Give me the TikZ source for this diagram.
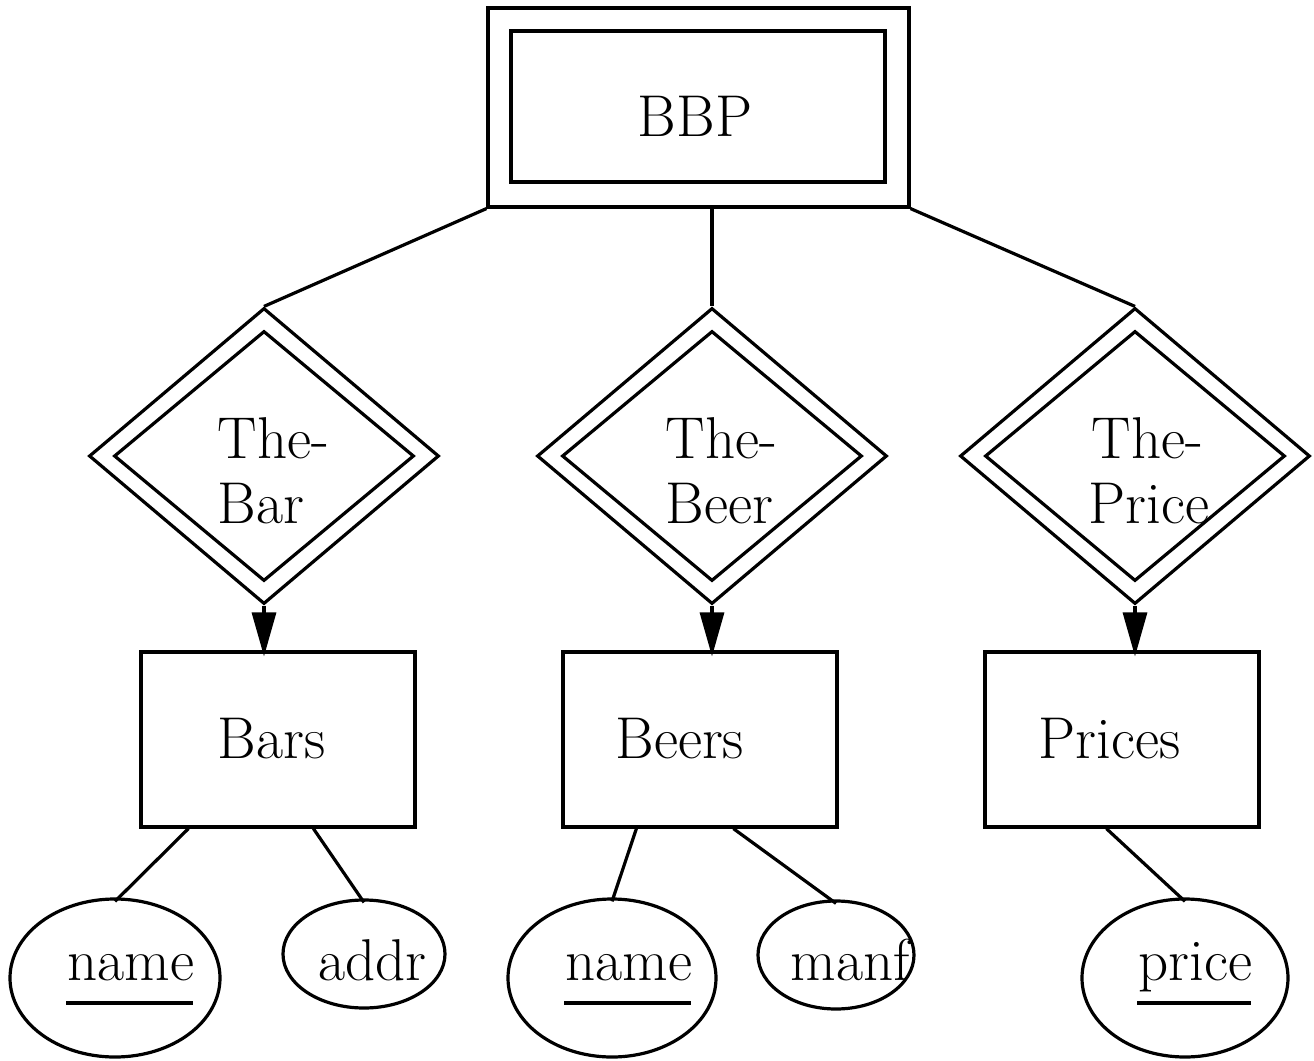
\documentclass[tikz,border=0pt]{standalone}
\usetikzlibrary{shapes.geometric,arrows.meta}
\begin{document}
\begin{tikzpicture}[x=0.5pt,y=-0.5pt,line width=1.6pt,
  every node/.style={font=\fontsize{29.5}{32.5}\selectfont},
  box/.style={draw,rectangle,inner sep=0pt},
  dia/.style={draw,diamond,inner sep=0pt},
  ell/.style={draw,ellipse,inner sep=0pt},
  txt/.style={inner sep=0pt},
  link/.style={line width=1.6pt},
  isa/.style={line width=1.6pt,-{Triangle[length=22pt,width=12pt]}}]
\useasboundingbox (0,0) rectangle (1314,1061);
% BBP
\node[box,minimum width=210.5pt,minimum height=99.5pt] (bbp) at (698.5,107.5) {};
\node[box,minimum width=187pt,minimum height=75.5pt] (bbpin) at (698,106.5) {};
\node[txt] (bbpt) at (695,116) {BBP};
% diamonds
\foreach \n/\cx in {dbar/264,dbeer/712,dprice/1135}{
  \node[dia,minimum width=175pt,minimum height=148pt] (\n) at (\cx,456) {};
  \node[dia,minimum width=150pt,minimum height=125pt] (\n in) at (\cx,456) {};
}
\node[txt,anchor=north west,align=left] (tbar) at (216,416) {The-\\Bar};
\node[txt,anchor=north west,align=left] (tbeer) at (664,416) {The-\\Beer};
\node[txt,anchor=north west,align=left] (tprice) at (1087,416) {\hspace*{1.5pt}The-\\Price};
% entity rectangles
\node[box,minimum width=137pt,minimum height=87.5pt] (bars) at (278,739.5) {};
\node[box,minimum width=137pt,minimum height=87.5pt] (beers) at (700,739.5) {};
\node[box,minimum width=137pt,minimum height=87.5pt] (prices) at (1122,739.5) {};
\node[txt,anchor=base west] (barst) at (216,758) {Bars};
\node[txt,anchor=base west] (beerst) at (614,758) {Beers};
\node[txt,anchor=base west] (pricest) at (1037,758) {Prices};
% attributes
\node[ell,minimum width=105pt,minimum height=79pt] (n1) at (115,978) {};
\node[ell,minimum width=81pt,minimum height=54pt] (addr) at (364,954) {};
\node[ell,minimum width=104pt,minimum height=79pt] (n2) at (612,978) {};
\node[ell,minimum width=78pt,minimum height=54pt] (manf) at (836,955) {};
\node[ell,minimum width=103pt,minimum height=79pt] (pr) at (1185,978) {};
\node[txt,anchor=base west] (n1t) at (66,980) {name};
\node[txt,anchor=base west] (addrt) at (317,980) {addr};
\node[txt,anchor=base west] (n2t) at (564,980) {name};
\node[txt,anchor=base west] (manft) at (789,980) {manf};
\node[txt,anchor=base west] (prt) at (1137,980) {price};
\foreach \t in {n1t,n2t,prt}{
  \draw[line width=1.8pt] ([yshift=-11.5pt]\t.base west) -- ([yshift=-11.5pt,xshift=-1.5pt]\t.base east);
}
% connectors
\draw[link] (bbp.south west) -- (dbar.north);
\draw[link] (bbp.south -| dbeer.north) -- (dbeer.north);
\draw[link] (bbp.south east) -- (dprice.north);
\draw[isa] (dbar.south) -- ([yshift=-3pt]dbar.south |- bars.north);
\draw[isa] (dbeer.south) -- ([yshift=-3pt]dbeer.south |- beers.north);
\draw[isa] (dprice.south) -- ([yshift=-3pt]dprice.south |- prices.north);
\draw[link] ([xshift=24.5pt]bars.south west) -- ([yshift=-2pt]n1.north);
\draw[link] ([xshift=87pt]bars.south west) -- ([yshift=-2pt]addr.north);
\draw[link] ([xshift=37.5pt]beers.south west) -- ([yshift=-2pt]n2.north);
\draw[link] ([xshift=86pt]beers.south west) -- ([yshift=-2pt]manf.north);
\draw[link] ([xshift=61.5pt]prices.south west) -- ([yshift=-2pt]pr.north);
\end{tikzpicture}
\end{document}
